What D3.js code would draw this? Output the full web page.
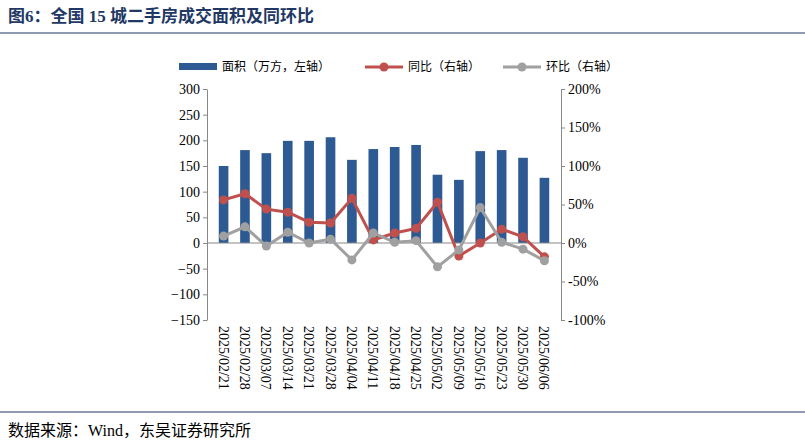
<!DOCTYPE html>
<html><head><meta charset="utf-8">
<script src="https://cdn.jsdelivr.net/npm/d3@7"></script>
<style>body{margin:0;background:#fff}text{font-family:"Times New Roman","Liberation Serif","Noto Sans CJK SC",serif}</style>
</head><body>
<svg id="svg" width="805" height="444"></svg>
<script>
// data
const dates = ["2025/02/21","2025/02/28","2025/03/07","2025/03/14","2025/03/21","2025/03/28","2025/04/04","2025/04/11","2025/04/18","2025/04/25","2025/05/02","2025/05/09","2025/05/16","2025/05/23","2025/05/30","2025/06/06"];
const area = [150,181,175,199,199,206,162,183,187,191,133,123,179,181,166,127];
const yoy = [56,64,44,40,27,26,58,4,13,19,53,-17,0,18,8,-18];
const mom = [9,21,-4,14,0,5,-22,13,1,3,-31,-9,46,1,-8,-23];
const leftTicks = d3.range(-150,301,50);
const rightTicks = d3.range(-100,201,50);

const svg = d3.select('#svg');
const cn = '"Noto Sans CJK SC",serif';
const x0 = 207, x1 = 561, yTop = 89, yBot = 320;

svg.append('text').attr('x',8).attr('y',22).attr('font-size',17).attr('font-weight','bold')
  .attr('fill','#1f3864').attr('font-family',cn).text('图6：全国 15 城二手房成交面积及同环比');
svg.append('line').attr('x1',0).attr('x2',805).attr('y1',33).attr('y2',33).attr('stroke','#1f3864').attr('stroke-width',1);
svg.append('line').attr('x1',0).attr('x2',805).attr('y1',412).attr('y2',412).attr('stroke','#1f3864').attr('stroke-width',1);
svg.append('text').attr('x',8).attr('y',436).attr('font-size',16).attr('font-family',cn).text('数据来源：Wind，东吴证券研究所');

const x = d3.scaleBand().domain(dates).range([x0,x1]).padding(0.55);
const yL = d3.scaleLinear().domain([-150,300]).range([yBot,yTop]);
const yR = d3.scaleLinear().domain([-100,200]).range([yBot,yTop]);

const axL = svg.append('g').attr('transform',`translate(${x0},0)`)
  .call(d3.axisLeft(yL).tickValues(leftTicks).tickSize(4).tickSizeOuter(0));
const axR = svg.append('g').attr('transform',`translate(${x1},0)`)
  .call(d3.axisRight(yR).tickValues(rightTicks).tickSize(4).tickSizeOuter(0).tickFormat(d=>d+'%'));
[axL,axR].forEach(a=>{a.selectAll('text').attr('font-size',14).attr('fill','#000');a.selectAll('path,line').attr('stroke','#888');});

svg.append('g').selectAll('rect').data(area).enter().append('rect')
  .attr('x',(d,i)=>x(dates[i])).attr('width',x.bandwidth())
  .attr('y',d=>yL(d)).attr('height',d=>yL(0)-yL(d)).attr('fill','#2e5a93');

svg.append('line').attr('x1',x0).attr('x2',x1).attr('y1',yL(0)).attr('y2',yL(0)).attr('stroke','#888');

const cx = i => x(dates[i]) + x.bandwidth()/2;
const line = d3.line().x((d,i)=>cx(i)).y(d=>yR(d));
function series(vals,color){
  svg.append('path').datum(vals).attr('d',line).attr('fill','none').attr('stroke',color).attr('stroke-width',3);
  svg.append('g').selectAll('circle').data(vals).enter().append('circle')
    .attr('cx',(d,i)=>cx(i)).attr('cy',d=>yR(d)).attr('r',4.5).attr('fill',color);
}
series(yoy,'#c0504d');
series(mom,'#a0a0a0');

svg.append('g').selectAll('text').data(dates).enter().append('text')
  .attr('transform',(d,i)=>`translate(${cx(i)-5},${yBot+6}) rotate(90)`)
  .attr('font-size',14).text(d=>d);

// legend
const lg = svg.append('g').attr('font-family',cn).attr('font-size',12);
lg.append('rect').attr('x',179).attr('y',63).attr('width',38).attr('height',7).attr('fill','#2e5a93');
lg.append('text').attr('x',222).attr('y',71).text('面积（万方，左轴）');
[[365,'#c0504d','同比（右轴）'],[503,'#a0a0a0','环比（右轴）']].forEach(([lx,c,t])=>{
  lg.append('line').attr('x1',lx).attr('x2',lx+38).attr('y1',67).attr('y2',67).attr('stroke',c).attr('stroke-width',3);
  lg.append('circle').attr('cx',lx+19).attr('cy',67).attr('r',4.5).attr('fill',c);
  lg.append('text').attr('x',lx+43).attr('y',71).text(t);
});
</script>
</body></html>
